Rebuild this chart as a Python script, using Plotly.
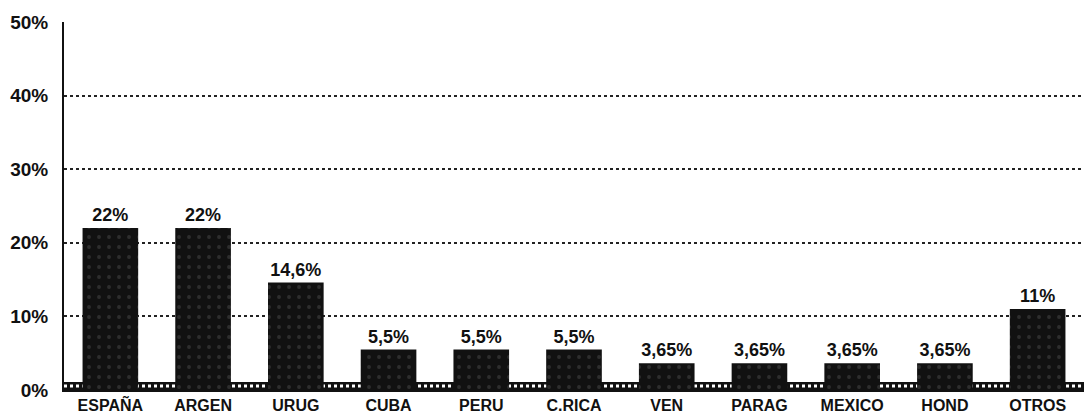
import plotly.graph_objects as go

categories = ["ESPAÑA", "ARGEN", "URUG", "CUBA", "PERU", "C.RICA", "VEN", "PARAG", "MEXICO", "HOND", "OTROS"]
values = [22, 22, 14.6, 5.5, 5.5, 5.5, 3.65, 3.65, 3.65, 3.65, 11]
value_labels = ["22%", "22%", "14,6%", "5,5%", "5,5%", "5,5%", "3,65%", "3,65%", "3,65%", "3,65%", "11%"]
y_ticks = [0, 10, 20, 30, 40, 50]
y_tick_labels = ["0%", "10%", "20%", "30%", "40%", "50%"]

fig = go.Figure()
fig.add_trace(go.Bar(
    x=categories, y=values,
    text=value_labels, textposition="outside",
    texttemplate="<b>%{text}</b>",
    textfont=dict(family="Liberation Sans", size=18, color="#111"),
    cliponaxis=False,
    width=0.6,
    marker=dict(color="#111", line=dict(width=0),
                pattern=dict(shape=".", fgcolor="#4a4a4a", bgcolor="#111", size=10, solidity=0.12)),
))

# floor strip
fig.add_shape(type="rect", xref="paper", yref="y", x0=0, x1=1, y0=0, y1=1.1,
              fillcolor="#111", line=dict(width=0), layer="below")
fig.add_shape(type="line", xref="paper", yref="y", x0=0, x1=1, y0=0.55, y1=0.55,
              line=dict(color="white", width=3, dash="dot"), layer="below")

fig.update_layout(
    width=1084, height=416,
    margin=dict(l=64, r=0, t=22, b=26),
    paper_bgcolor="white", plot_bgcolor="white",
    showlegend=False,
    font=dict(family="Liberation Sans", color="#111"),
)
fig.update_yaxes(
    range=[0, 50], tickvals=y_ticks, ticktext=["<b>%s</b>" % t for t in y_tick_labels],
    tickfont=dict(size=19, family="Liberation Sans"),
    showgrid=True, gridcolor="#222", griddash="dot", gridwidth=1.5,
    showline=True, linecolor="#111", linewidth=2, mirror=True,
    ticks="", ticklabelstandoff=10, zeroline=False, automargin=False,
)
fig.update_xaxes(
    tickvals=categories, ticktext=["<b>%s</b>" % c for c in categories],
    tickfont=dict(size=16, family="Liberation Sans"),
    showline=True, linecolor="#111", linewidth=2,
    ticks="", ticklabelstandoff=0, automargin=False,
)
fig.write_html("out.html", config={"displayModeBar": False},
               post_script="document.body.style.margin='0';document.body.style.overflow='hidden';")
